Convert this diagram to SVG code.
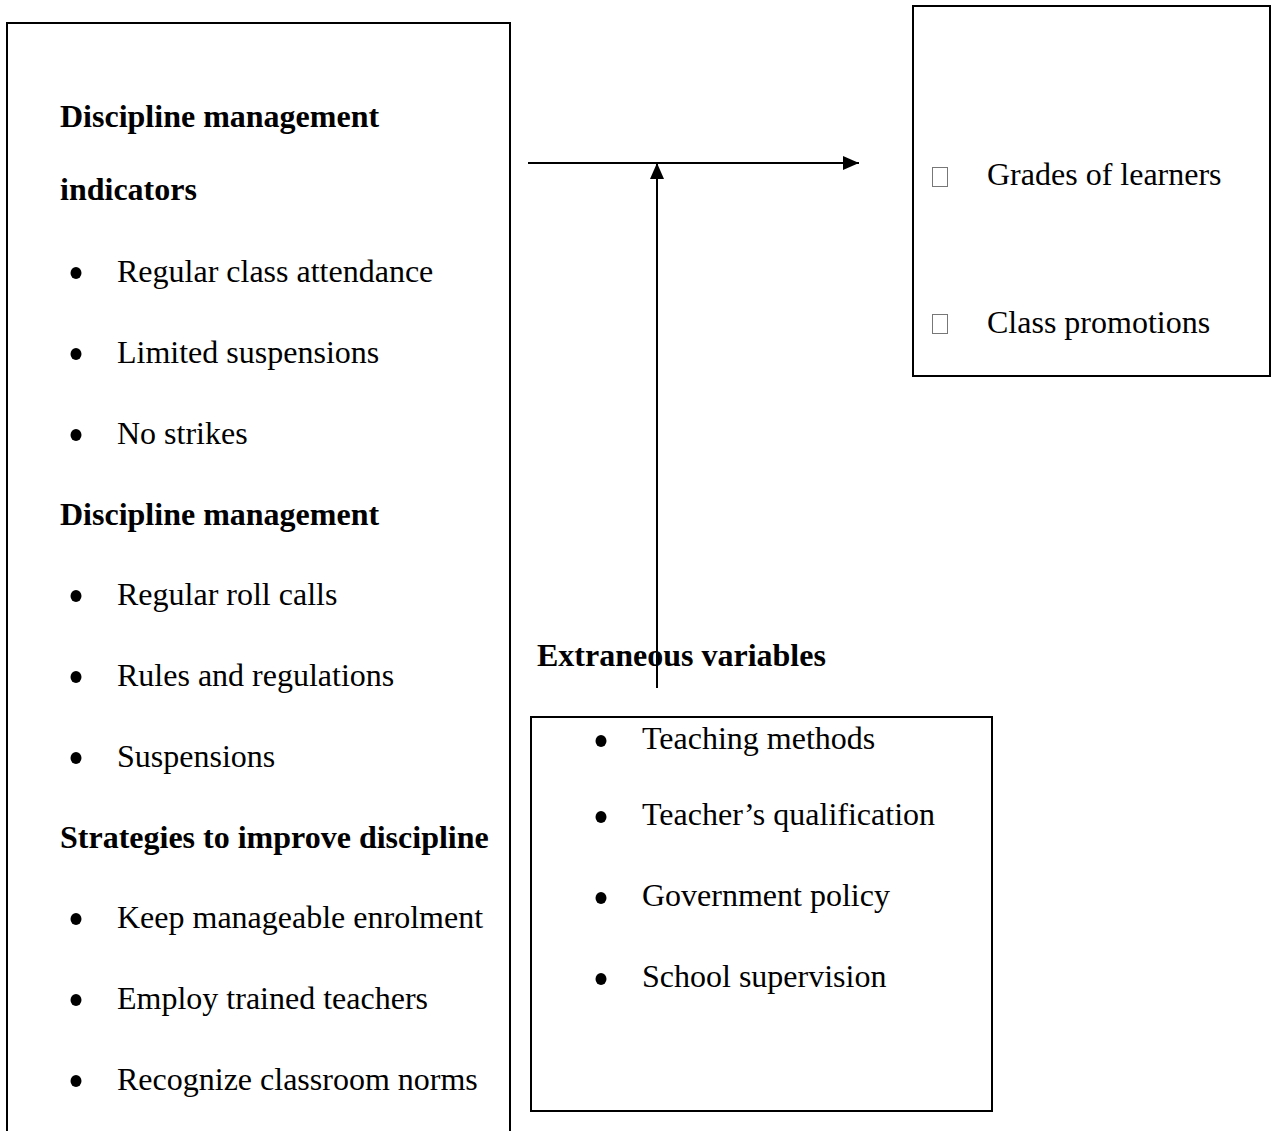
<svg xmlns="http://www.w3.org/2000/svg" width="1271" height="1131" viewBox="0 0 1271 1131">
<style>
.t{font-family:"Liberation Serif","Times New Roman",serif;font-size:32px;fill:#000}
.b{font-weight:bold}
.box{fill:none;stroke:#000;stroke-width:2}
.ln{stroke:#000;stroke-width:2;fill:none}
.tofu{fill:none;stroke:#777;stroke-width:1}
</style>
<defs>
<marker id="ah2" viewBox="0 0 16 14" refX="16" refY="7" markerWidth="16" markerHeight="14" markerUnits="userSpaceOnUse" orient="auto">
<path d="M0,0 L16,7 L0,14 z" fill="#000"/>
</marker>
</defs>
<rect width="1271" height="1131" fill="#fff"/>
<g id="independent">
<path class="box" d="M7,1131 V23 H510 V1131"/>
<text class="t b" x="60" y="127">Discipline management</text>
<text class="t b" x="60" y="200">indicators</text>
<g class="t">
<ellipse cx="76" cy="273" rx="5.5" ry="6"/><text x="117" y="282">Regular class attendance</text>
<ellipse cx="76" cy="354" rx="5.5" ry="6"/><text x="117" y="363">Limited suspensions</text>
<ellipse cx="76" cy="435" rx="5.5" ry="6"/><text x="117" y="444">No strikes</text>
</g>
<text class="t b" x="60" y="525">Discipline management</text>
<g class="t">
<ellipse cx="76" cy="596" rx="5.5" ry="6"/><text x="117" y="605">Regular roll calls</text>
<ellipse cx="76" cy="677" rx="5.5" ry="6"/><text x="117" y="686">Rules and regulations</text>
<ellipse cx="76" cy="758" rx="5.5" ry="6"/><text x="117" y="767">Suspensions</text>
</g>
<text class="t b" x="60" y="848">Strategies to improve discipline</text>
<g class="t">
<ellipse cx="76" cy="919" rx="5.5" ry="6"/><text x="117" y="928">Keep manageable enrolment</text>
<ellipse cx="76" cy="1000" rx="5.5" ry="6"/><text x="117" y="1009">Employ trained teachers</text>
<ellipse cx="76" cy="1081" rx="5.5" ry="6"/><text x="117" y="1090">Recognize classroom norms</text>
</g>
</g>
<g id="dependent">
<rect class="box" x="913" y="6" width="357" height="370"/>
<rect class="tofu" x="932.5" y="167.5" width="15" height="19"/>
<text class="t" x="987" y="185">Grades of learners</text>
<rect class="tofu" x="932.5" y="314.5" width="15" height="19"/>
<text class="t" x="987" y="333">Class promotions</text>
</g>
<g id="extraneous">
<text class="t b" x="537" y="666">Extraneous variables</text>
<rect class="box" x="531" y="717" width="461" height="394"/>
<g class="t">
<ellipse cx="601" cy="741" rx="5.5" ry="6"/><text x="642" y="749">Teaching methods</text>
<ellipse cx="601" cy="817" rx="5.5" ry="6"/><text x="642" y="825">Teacher’s qualification</text>
<ellipse cx="601" cy="898" rx="5.5" ry="6"/><text x="642" y="906">Government policy</text>
<ellipse cx="601" cy="979" rx="5.5" ry="6"/><text x="642" y="987">School supervision</text>
</g>
</g>
<g id="connectors">
<line class="ln" x1="528" y1="163" x2="859" y2="163" marker-end="url(#ah2)"/>
<line class="ln" x1="657" y1="688" x2="657" y2="163" marker-end="url(#ah2)"/>
</g>
</svg>
